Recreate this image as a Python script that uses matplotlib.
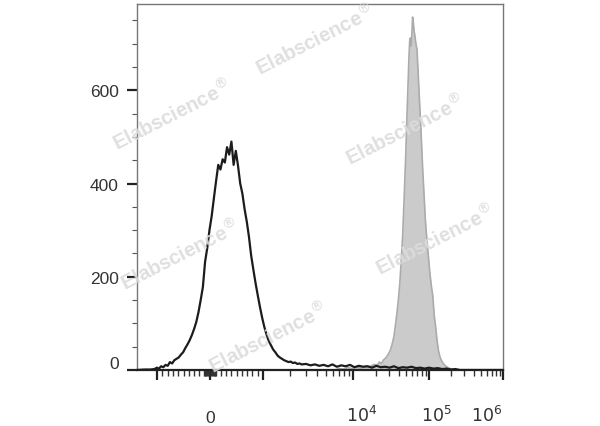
import numpy as np
import matplotlib
matplotlib.use("Agg")
import matplotlib.pyplot as plt
from matplotlib.transforms import ScaledTranslation

plt.rcParams['font.family'] = ['Liberation Sans', 'DejaVu Sans']

# histogram data, x in display channels (0-1000 across the axis)
black_x = [0, 20, 36, 48, 54, 60, 66, 72, 78, 84, 90, 96, 102, 108, 114, 120, 126, 132,
           138, 144, 150, 156, 162, 168, 174, 180, 186, 192, 198, 204, 210, 216, 222,
           228, 234, 240, 246, 252, 258, 264, 270, 276, 282, 288, 294, 300, 306, 312,
           318, 324, 330, 336, 342, 348, 354, 360, 366, 372, 378, 384, 390, 396, 402,
           408, 414, 420, 426, 432, 438, 444, 450, 462, 474, 486, 498, 510, 522, 534,
           546, 558, 570, 582, 594, 606, 618, 630, 642, 654, 666, 678, 690, 702, 714,
           726, 738, 750, 762, 774, 786, 798, 810, 822, 834, 846, 858, 870, 882, 900, 1000]
black_counts = [0, 1, 1, 2, 5, 3, 8, 6, 11, 9, 17, 14, 21, 24, 27, 33, 38, 47,
                55, 64, 75, 88, 103, 124, 150, 178, 232, 262, 300, 330, 368, 405, 440,
                430, 452, 445, 478, 462, 490, 440, 470, 438, 400, 378, 345, 318, 285, 245,
                215, 186, 160, 135, 112, 92, 76, 62, 53, 44, 38, 31, 27, 24, 21,
                19, 17, 18, 15, 16, 13, 14, 12, 13, 10, 12, 9, 11, 8, 12,
                7, 10, 8, 11, 6, 9, 7, 8, 5, 9, 6, 7, 5, 8, 4,
                6, 5, 7, 4, 5, 3, 5, 3, 4, 2, 3, 1, 2, 0, 0, 0]

gray_x = [540, 552, 564, 576, 588, 600, 612, 624, 636, 648, 656, 662, 668, 674, 680,
          686, 692, 697, 702, 706, 710, 714, 718, 722, 726, 730, 734, 737, 740, 743,
          745, 747, 749, 751, 753, 755, 757, 759, 762, 765, 768, 771, 774, 777, 780,
          784, 788, 792, 796, 800, 804, 808, 812, 816, 820, 824, 828, 832, 836, 840,
          846, 852, 860, 870, 880]
gray_counts = [0, 3, 2, 5, 3, 6, 4, 8, 7, 12, 10, 17, 14, 22, 26,
               33, 42, 55, 72, 95, 120, 150, 185, 235, 290, 370, 455, 530, 600, 670,
               705, 712, 695, 720, 757, 745, 728, 718, 700, 688, 640, 590, 545, 495, 440,
               380, 320, 280, 245, 210, 182, 160, 118, 92, 62, 40, 28, 20, 15, 11,
               7, 4, 2, 1, 0]

y_major = [0, 200, 400, 600]
x_major = [-1000, 0, 1000, 1e4, 1e5, 1e6]
x_labels = ['', '0', '', '$10^4$', '$10^5$', '$10^6$']
x_label_shift = [(0, 0), (0, -4), (0, 0), (6, 0), (5, 0), (-12, 0)]   # points


def to_channel(v):
    # biexponential-like axis: linear around zero, log decades above 10^3
    v = np.asarray(v, dtype=float)
    lin = 210 + v * 0.053
    logp = np.interp(np.log10(np.maximum(v, 1.0)), [3, 4, 5, 6], [263, 353, 429, 503])
    px = np.where(np.abs(v) <= 1000, lin, logp)
    return (px - 137) / 0.366


minor_vals = [v for v in range(-900, 1000, 100) if v != 0]
minor_vals += list(range(-120, 140, 20))
for dec in [1e3, 1e4, 1e5]:
    minor_vals += [k * dec for k in range(2, 10)]

fig = plt.figure(figsize=(6, 4.27), dpi=100)
ax = fig.add_axes([137 / 600, 1 - 371 / 427, 366 / 600, 366 / 427])

ax.fill_between(gray_x, gray_counts, 0, color='#cbcbcb', lw=0, zorder=1)
ax.plot(gray_x, gray_counts, color='#ababab', lw=1.2, zorder=2)
ax.plot(black_x, black_counts, color='#1c1c1c', lw=1.6, zorder=3)

ax.set_xlim(0, 1000)
ax.set_ylim(0, 785)

ax.set_yticks(y_major)
ax.set_yticks(np.arange(50, 800, 50), minor=True)
ax.set_xticks(to_channel(x_major))
ax.set_xticklabels(x_labels)
ax.set_xticks(to_channel(minor_vals), minor=True)

# sizes in points (1 px = 0.72 pt at 100 dpi)
ax.tick_params(axis='y', which='major', length=7.2, width=1.6, color='#222222',
               labelsize=12.5, labelcolor='#333333', pad=6)
ax.tick_params(axis='y', which='minor', length=3.6, width=0.8, color='#555555')
ax.tick_params(axis='x', which='major', length=7.5, width=1.6, color='#222222',
               labelsize=12.5, labelcolor='#333333', pad=17)
ax.tick_params(axis='x', which='minor', length=4.3, width=1.0, color='#333333')

for lab, (dx, dy) in zip(ax.get_xticklabels(), x_label_shift):
    lab.set_transform(lab.get_transform() + ScaledTranslation(dx / 72, dy / 72, fig.dpi_scale_trans))
ylabs = ax.get_yticklabels()
ylabs[0].set_transform(ylabs[0].get_transform() + ScaledTranslation(0, 8 / 100, fig.dpi_scale_trans))

for side in ['left', 'top', 'right']:
    ax.spines[side].set_color('#777777')
    ax.spines[side].set_linewidth(1.0)
ax.spines['bottom'].set_color('#222222')
ax.spines['bottom'].set_linewidth(1.6)

# watermarks
marks = [(172, 115), (180, 255), (268, 338), (315, 40), (405, 130), (435, 240)]
for mx, my in marks:
    fig.text(mx / 600, 1 - my / 427, r'Elabscience$^{\circledR}$', fontsize=14.5,
             fontweight='bold', color='#dcdcdc', alpha=0.9, rotation=27,
             rotation_mode='anchor', ha='center', va='center', zorder=10)

fig.savefig('out.png', dpi=100)
